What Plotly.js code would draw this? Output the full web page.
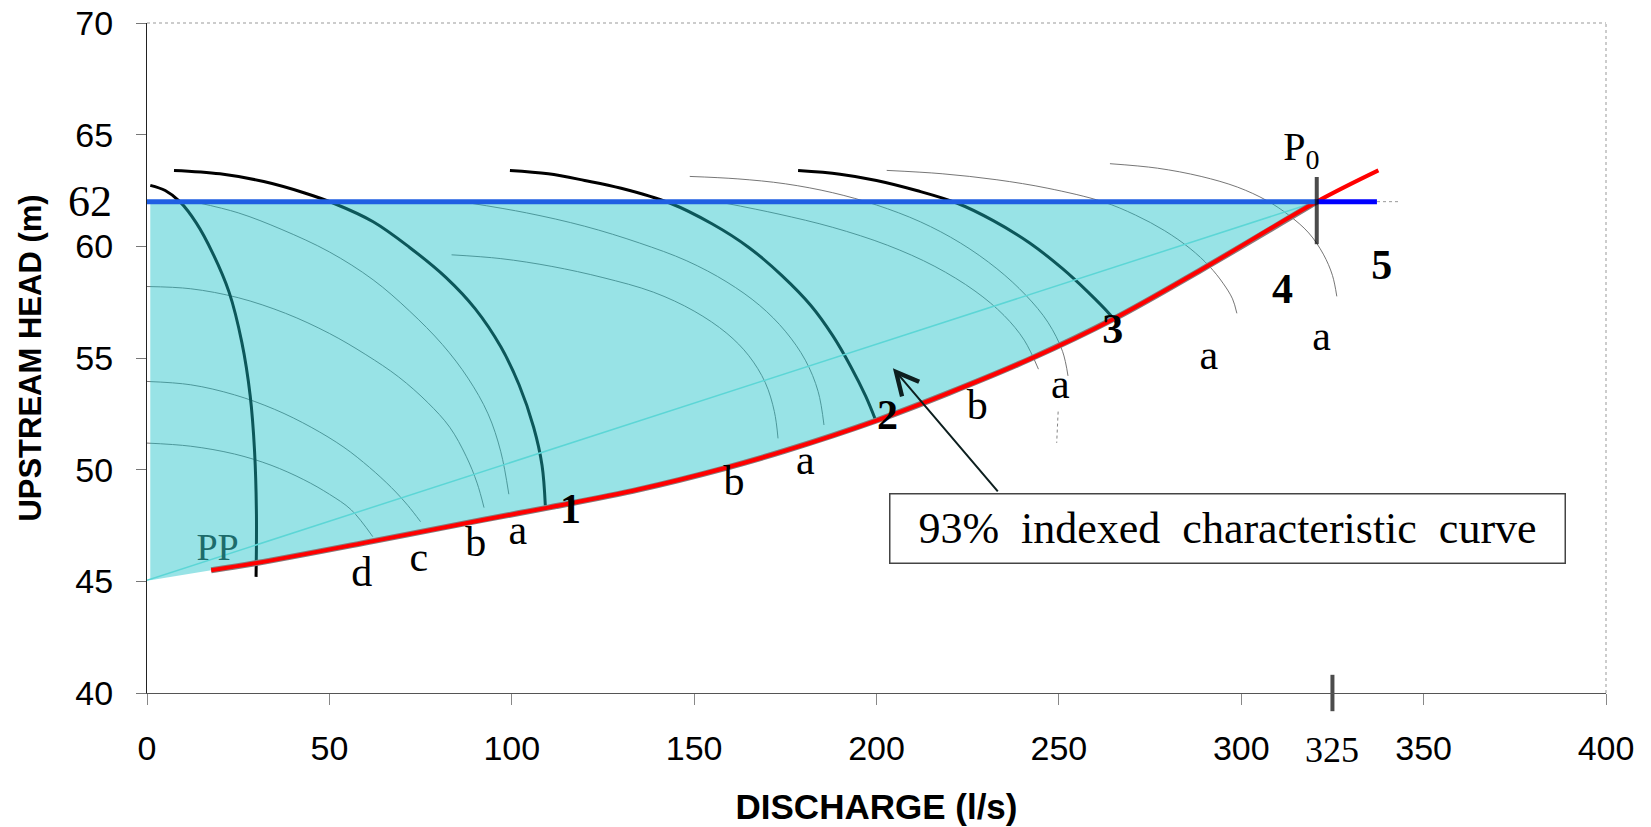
<!DOCTYPE html>
<html><head><meta charset="utf-8">
<script src="https://cdn.plot.ly/plotly-3.0.1.min.js"></script>
<style>html,body{margin:0;padding:0;background:#fff}</style>
</head><body>
<div id="chart" style="width:1651px;height:827px"></div>
<script>
// ---- data ----
const xTicks = [0, 50, 100, 150, 200, 250, 300, 350, 400];
const yTicks = [40, 45, 50, 55, 60, 65, 70];

// 93% indexed characteristic curve (red)
const redQ = [17.6, 30, 62, 92, 110, 135, 158, 175, 200, 220, 242, 265, 289, 320.7, 337.6];
const redH = [45.5, 45.82, 46.8, 47.75, 48.3, 49.12, 50.05, 50.85, 52.2, 53.45, 54.95, 56.75, 58.95, 62.0, 63.4];

// operating level line (blue) and point P0
const levelH = 62;
const p0Q = 320.7;
const blueEndQ = 337.2;
const dotEndQ = 343.6;
const diagQ = [0, 320.7];
const diagH = [45.05, 62.0];

// thick pump curves (full speed)
const pump0Q = [0.9, 5, 9, 13.5, 18, 22.5, 26, 28.3, 29.5, 30.0, 29.9];
const pump0H = [62.73, 62.5, 62.0, 61.05, 59.7, 57.95, 55.7, 53.3, 50.8, 48.0, 45.2];
const pump1Q = [7.4, 20, 32, 43, 51, 62, 72, 82, 90, 97, 102, 106, 108.3, 109.2];
const pump1H = [63.4, 63.25, 62.9, 62.4, 61.94, 61.1, 59.95, 58.6, 57.2, 55.5, 53.8, 51.9, 50.2, 48.4];
const pump2Q = [99.5, 110, 120, 130, 143.3, 155, 165, 174, 182, 188, 193, 197, 199.8];
const pump2H = [63.4, 63.25, 62.95, 62.6, 61.94, 61.0, 59.95, 58.7, 57.35, 56.0, 54.6, 53.3, 52.2];
const pump3Q = [178.5, 190, 200, 211, 222, 232, 242, 251, 258, 264, 266];
const pump3H = [63.39, 63.23, 62.95, 62.5, 61.94, 61.15, 60.15, 59.0, 57.95, 56.95, 56.55];

// thin curves (reduced speeds)
const c1aQ = [14, 25, 37, 50, 62, 72, 81, 88, 93.5, 97, 99.2];
const c1aH = [61.95, 61.5, 60.75, 59.75, 58.5, 57.1, 55.6, 54.1, 52.5, 50.8, 48.9];
const c1bQ = [0, 12, 25, 38, 50, 60, 69, 77, 83, 87.5, 90.5, 92.4];
const c1bH = [58.2, 58.1, 57.7, 57.0, 56.1, 55.15, 54.15, 53.0, 51.9, 50.6, 49.4, 48.3];
const c1cQ = [0, 12, 24, 35, 45, 54, 61, 67, 71.5, 75];
const c1cH = [53.95, 53.8, 53.35, 52.7, 51.9, 51.0, 50.1, 49.2, 48.4, 47.67];
const c1dQ = [0, 12, 24, 34, 43, 50, 56, 61.9];
const c1dH = [51.19, 51.05, 50.7, 50.2, 49.55, 48.9, 48.2, 47.0];
const c2bQ = [83.5, 97, 111, 125, 138.8, 150, 159, 165, 169.5, 172, 173];
const c2bH = [59.62, 59.45, 59.1, 58.6, 57.95, 57.1, 56.1, 55.1, 53.9, 52.6, 51.4];
const c2aQ = [88, 104, 120, 135, 148, 159, 168, 175, 180.5, 184, 185.6];
const c2aH = [61.95, 61.5, 60.9, 60.15, 59.35, 58.4, 57.35, 56.2, 54.9, 53.5, 52.0];
const c3bQ = [158, 173, 188, 203, 216, 227, 235, 240.5, 244.4];
const c3bH = [61.95, 61.45, 60.85, 60.05, 59.1, 58.0, 56.9, 55.8, 54.5];
const c3aQ = [148.8, 162, 175, 188, 200, 212, 223, 233, 241, 247, 251, 252.5];
const c3aH = [63.13, 63.02, 62.8, 62.4, 61.85, 61.1, 60.15, 59.0, 57.8, 56.6, 55.3, 54.2];
const c3tailQ = [249.8, 249.4];
const c3tailH = [52.6, 51.2];
const c4Q = [202.8, 218, 233, 247, 262, 271, 279, 286, 291.3, 295, 297.6, 298.8];
const c4H = [63.4, 63.25, 62.98, 62.6, 62.0, 61.4, 60.7, 59.9, 59.1, 58.35, 57.65, 57.0];
const c5Q = [264, 277, 289, 299, 307, 313, 318.5, 322.5, 325, 326.2];
const c5H = [63.7, 63.5, 63.13, 62.65, 62.05, 61.4, 60.6, 59.65, 58.7, 57.76];

// region edge at the vertical axis
const edgeQ = [0.9, 0.9];
const edgeH = [45.05, 62.0];

// labels
const letterText = ['d', 'c', 'b', 'a', 'b', 'a', 'b', 'a', 'a', 'a'];
const letterQ = [58.9, 74.5, 90.1, 101.7, 160.9, 180.5, 227.6, 250.4, 291.1, 322.0];
const letterH = [45.28, 45.94, 46.6, 47.12, 49.34, 50.28, 52.74, 53.68, 55.0, 55.85];
const numText = ['1', '2', '3', '4', '5'];
const numQ = [116.1, 203.0, 264.8, 311.3, 338.5];
const numH = [48.07, 52.3, 56.13, 57.92, 59.0];
const ppLabel = {text: 'PP', q: 19.35, h: 46.4};
const p0Label = {text: 'P<sub>0</sub>', q: 316.5, h: 64.3};
const markQ = 325;
const boxText = '93%&nbsp; indexed&nbsp; characteristic&nbsp; curve';
const boxQ = 296.3, boxH = 47.35;
const arrowTailQ = 233.6, arrowTailH = 48.96;
const arrowHeadQ = 204.5, arrowHeadH = 54.54;

// ---- build traces ----
const serif = 'Liberation Serif, Times New Roman, serif';
const sans = 'Liberation Sans, Arial, sans-serif';
const traces = [];
function line(q, h, color, width, dash, shape) {
  traces.push({x: q, y: h, type: 'scatter', mode: 'lines', hoverinfo: 'skip',
    line: {color: color, width: width, dash: dash || 'solid', shape: shape || 'spline', smoothing: 1}});
}
line([0, dotEndQ], [levelH, levelH], '#9a9a9a', 1, 'dot', 'linear');
[[c1aQ, c1aH], [c1bQ, c1bH], [c1cQ, c1cH], [c1dQ, c1dH], [c2aQ, c2aH], [c2bQ, c2bH],
 [c3aQ, c3aH], [c3bQ, c3bH], [c4Q, c4H], [c5Q, c5H]].forEach(c => line(c[0], c[1], '#666666', 0.9));
line(c3tailQ, c3tailH, '#777777', 0.9, 'dot', 'linear');
[[pump0Q, pump0H], [pump1Q, pump1H], [pump2Q, pump2H], [pump3Q, pump3H]].forEach(c => line(c[0], c[1], '#000000', 3));

// shaded region: axis edge, level line, then down the red curve
const nIn = redQ.indexOf(p0Q) + 1;
const fillQ = edgeQ.concat(redQ.slice(0, nIn).reverse());
const fillH = edgeH.concat(redH.slice(0, nIn).reverse());
traces.push({x: fillQ, y: fillH, type: 'scatter', mode: 'lines', fill: 'toself',
  fillcolor: 'rgba(26,193,199,0.45)', line: {width: 0, color: 'rgba(0,0,0,0)', shape: 'linear'}, hoverinfo: 'skip'});
line(diagQ, diagH, '#5cd6d6', 1.5, 'solid', 'linear');
line(redQ.slice(0, nIn), redH.slice(0, nIn), '#8a7a7a', 6);
line(redQ, redH, '#ff0000', 4);
line([0, p0Q], [levelH, levelH], '#1f5fe3', 5, 'solid', 'linear');
line([p0Q, blueEndQ], [levelH, levelH], '#0000ff', 5, 'solid', 'linear');

// tick marks at P0 and at 325
traces.push({x: [p0Q, markQ], y: [61.6, 40], type: 'scatter', mode: 'markers', cliponaxis: false, hoverinfo: 'skip',
  marker: {symbol: 'line-ns-open', size: [48, 26], color: '#000', line: {color: '#000', width: 4}}});

// text labels
traces.push({x: letterQ, y: letterH, text: letterText, type: 'scatter', mode: 'text', hoverinfo: 'skip',
  textfont: {family: serif, size: 42, color: '#000'}});
traces.push({x: numQ, y: numH, text: numText.map(t => '<b>' + t + '</b>'), type: 'scatter', mode: 'text', hoverinfo: 'skip',
  textfont: {family: serif, size: 42, color: '#000'}});
traces.push({x: [ppLabel.q], y: [ppLabel.h], text: [ppLabel.text], type: 'scatter', mode: 'text', hoverinfo: 'skip',
  textfont: {family: serif, size: 38, color: '#1d6b6b'}});
traces.push({x: [p0Label.q], y: [p0Label.h], text: [p0Label.text], type: 'scatter', mode: 'text', hoverinfo: 'skip',
  cliponaxis: false, textfont: {family: serif, size: 40, color: '#000'}});

const layout = {
  width: 1651, height: 827,
  margin: {l: 147, r: 45, t: 23, b: 134, pad: 0},
  paper_bgcolor: '#fff', plot_bgcolor: '#fff',
  showlegend: false,
  xaxis: {range: [0, 400], tickvals: xTicks, ticktext: xTicks.map(String),
    showgrid: false, zeroline: false, showline: true, linecolor: '#555', linewidth: 1,
    ticks: 'outside', ticklen: 11, tickcolor: '#888', tickwidth: 1, ticklabelstandoff: 14,
    tickfont: {family: sans, size: 34, color: '#000'},
    title: {text: '<b>DISCHARGE (l/s)</b>', font: {family: sans, size: 35, color: '#000'}, standoff: 28}},
  yaxis: {range: [40, 70], tickvals: yTicks, ticktext: yTicks.map(String),
    showgrid: false, zeroline: false, showline: true, linecolor: '#222', linewidth: 1,
    ticks: 'outside', ticklen: 10, tickcolor: '#777', tickwidth: 1, ticklabelstandoff: 16,
    tickfont: {family: sans, size: 34, color: '#000'},
    title: {text: '<b>UPSTREAM HEAD (m)</b>', font: {family: sans, size: 31, color: '#000'}, standoff: 24}},
  shapes: [
    {type: 'line', xref: 'paper', yref: 'paper', x0: 0, x1: 1, y0: 1, y1: 1, line: {color: '#999', width: 1, dash: 'dot'}},
    {type: 'line', xref: 'paper', yref: 'paper', x0: 1, x1: 1, y0: 0, y1: 1, line: {color: '#999', width: 1, dash: 'dot'}}
  ],
  annotations: [
    {xref: 'paper', yref: 'y', x: -0.0229, y: levelH, xanchor: 'right', yanchor: 'middle', showarrow: false,
      text: '62', font: {family: serif, size: 44, color: '#000'}},
    {xref: 'x', yref: 'paper', x: markQ, y: -0.085, xanchor: 'center', yanchor: 'middle', showarrow: false,
      text: String(markQ), font: {family: serif, size: 36, color: '#000'}},
    {xref: 'x', yref: 'y', x: boxQ, y: boxH, xanchor: 'center', yanchor: 'middle', showarrow: false,
      text: boxText, font: {family: serif, size: 44, color: '#000'},
      bgcolor: '#fff', bordercolor: '#444', borderwidth: 1.5, borderpad: 6, width: 662, height: 56},
    {xref: 'x', yref: 'y', axref: 'x', ayref: 'y', x: arrowHeadQ, y: arrowHeadH, ax: arrowTailQ, ay: arrowTailH,
      text: '', showarrow: true, arrowhead: 5, arrowsize: 2.2, arrowwidth: 2, arrowcolor: '#0d1f1f', standoff: 0}
  ]
};
Plotly.newPlot('chart', traces, layout, {displayModeBar: false, staticPlot: true});
</script></body></html>
